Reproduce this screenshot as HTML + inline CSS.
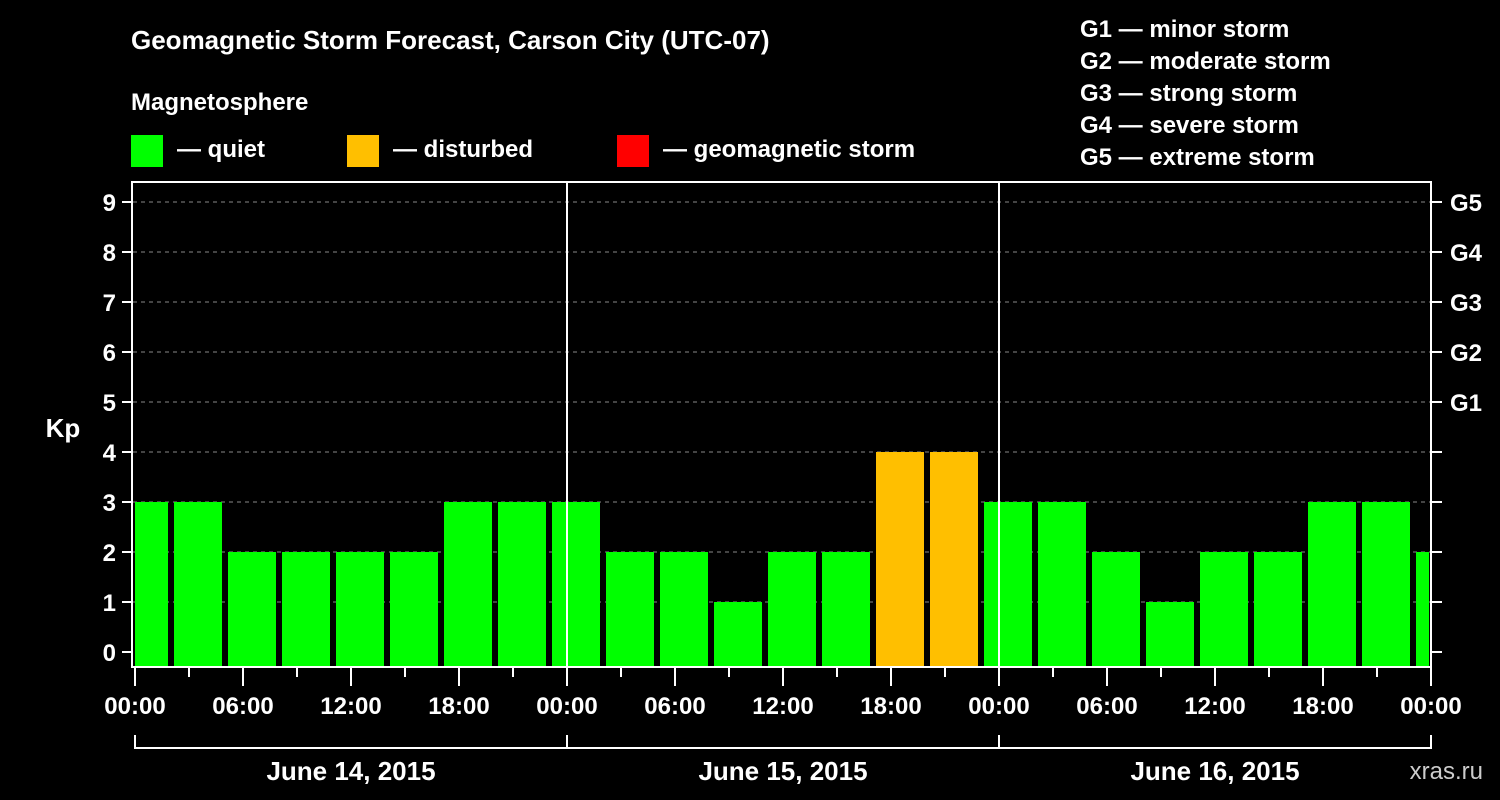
<!DOCTYPE html>
<html><head><meta charset="utf-8"><style>
html,body{margin:0;padding:0;background:#000;}
svg{display:block;font-family:"Liberation Sans",sans-serif;font-weight:bold;}
</style></head><body>
<svg id="chart" width="1500" height="800" viewBox="0 0 1500 800" xmlns="http://www.w3.org/2000/svg">
<rect width="1500" height="800" fill="#000"/>
<text x="131" y="49" fill="#fff" font-size="26">Geomagnetic Storm Forecast, Carson City (UTC-07)</text>
<text x="131" y="110" fill="#fff" font-size="24">Magnetosphere</text>
<g><rect x="131" y="135" width="32" height="32" fill="#00ff00"/><text x="177" y="157" fill="#fff" font-size="24">— quiet</text></g>
<g><rect x="347" y="135" width="32" height="32" fill="#ffbf00"/><text x="393" y="157" fill="#fff" font-size="24">— disturbed</text></g>
<g><rect x="617" y="135" width="32" height="32" fill="#ff0000"/><text x="663" y="157" fill="#fff" font-size="24">— geomagnetic storm</text></g>
<g fill="#fff" font-size="24">
<text x="1080" y="37">G1 — minor storm</text>
<text x="1080" y="69">G2 — moderate storm</text>
<text x="1080" y="101">G3 — strong storm</text>
<text x="1080" y="133">G4 — severe storm</text>
<text x="1080" y="165">G5 — extreme storm</text>
</g>
<text x="63" y="437" fill="#fff" font-size="26" text-anchor="middle">Kp</text>
<text x="1483" y="779" fill="#ccc" font-size="24" font-weight="normal" text-anchor="end">xras.ru</text>
<defs><clipPath id="pc"><rect x="135" y="183" width="1294" height="484"/></clipPath></defs>
<g id="grid"></g><g id="bars" clip-path="url(#pc)"></g><g id="axes"></g>
</svg>
<script>
const kpValues=[3,3,2,2,2,2,3,3,3,2,2,1,2,2,4,4,3,3,2,1,2,2,3,3,2];
const yTicks=[0,1,2,3,4,5,6,7,8,9];
const gLabels=["G1","G2","G3","G4","G5"];
const gLevels=[5,6,7,8,9];
const timeLabels=["00:00","06:00","12:00","18:00","00:00","06:00","12:00","18:00","00:00","06:00","12:00","18:00","00:00"];
const dateLabels=["June 14, 2015","June 15, 2015","June 16, 2015"];
const NS="http://www.w3.org/2000/svg";
const x0=135,pxH=18;
const xs=h=>x0+h*pxH;
const ys=k=>652-k*50;
function mk(t,a,p){const e=document.createElementNS(NS,t);for(const k in a)e.setAttribute(k,a[k]);p.appendChild(e);return e;}
const grid=document.getElementById('grid'),bars=document.getElementById('bars'),axes=document.getElementById('axes');
// grid lines
yTicks.forEach(k=>{if(k===0)return;const l=mk('line',{x1:133,x2:1430,y1:ys(k),y2:ys(k),stroke:'#888','stroke-width':1,'stroke-dasharray':'4,4'},grid);

});
// bars
kpValues.forEach((v,i)=>{const c=xs(0.5+3*i);const col=v>=5?'#ff0000':(v>=4?'#ffbf00':'#00ff00');
const r=mk('rect',{x:c-24,y:ys(v),width:48,height:668-ys(v),fill:col},bars);

});
// day separators
[1,2].forEach(d=>{const l=mk('line',{x1:xs(24*d),x2:xs(24*d),y1:182,y2:668,stroke:'#fff','stroke-width':2},axes);

});
// frame
const f=mk('rect',{x:132,y:182,width:1299,height:485,fill:'none',stroke:'#fff','stroke-width':2},axes);


// y ticks
yTicks.forEach(k=>{mk('line',{x1:122,x2:132,y1:ys(k),y2:ys(k),stroke:'#fff','stroke-width':2},axes);
mk('line',{x1:1431,x2:1442,y1:ys(k),y2:ys(k),stroke:'#fff','stroke-width':2},axes);
const t=mk('text',{x:116,y:ys(k)+9,fill:'#fff','font-size':24,'text-anchor':'end'},axes);t.textContent=k;

});
gLabels.forEach((g,i)=>{const t=mk('text',{x:1450,y:ys(gLevels[i])+9,fill:'#fff','font-size':24},axes);t.textContent=g;

});
// x ticks
for(let h=0;h<=72;h+=3){const long=h%6===0;mk('line',{x1:xs(h),x2:xs(h),y1:667,y2:long?686:677,stroke:'#fff','stroke-width':2},axes);}
timeLabels.forEach((s,i)=>{const t=mk('text',{x:xs(i*6),y:714,fill:'#fff','font-size':24,'text-anchor':'middle'},axes);t.textContent=s;

});
// date bracket
mk('line',{x1:xs(0),x2:xs(72),y1:748,y2:748,stroke:'#fff','stroke-width':2},axes);
[0,24,48,72].forEach(h=>mk('line',{x1:xs(h),x2:xs(h),y1:735,y2:749,stroke:'#fff','stroke-width':2},axes));
dateLabels.forEach((s,i)=>{const t=mk('text',{x:xs(24*i+12),y:780,fill:'#fff','font-size':26,'text-anchor':'middle'},axes);t.textContent=s;

});
</script>
</body></html>
